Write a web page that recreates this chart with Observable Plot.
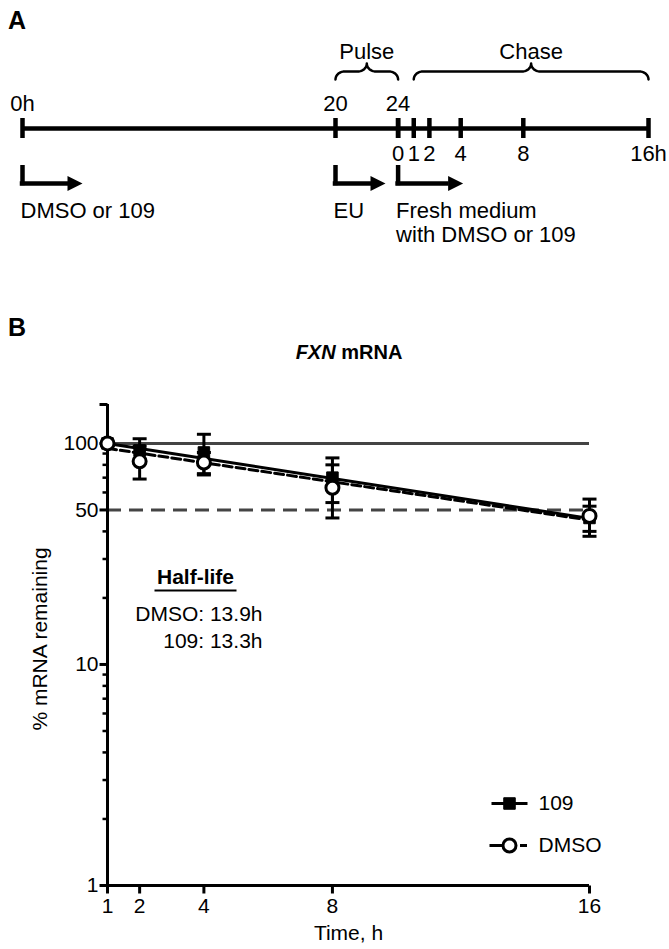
<!DOCTYPE html>
<html>
<head>
<meta charset="utf-8">
<script src="https://cdn.jsdelivr.net/npm/d3@7"></script>
<script src="https://cdn.jsdelivr.net/npm/@observablehq/plot@0.6"></script>
<style>
  body { margin: 0; background: #fff; }
  #wrap { position: relative; width: 669px; height: 949px; overflow: hidden; background: #fff;
          font-family: "Liberation Sans", Arial, sans-serif; color: #000; }
  .panel { position: absolute; left: 0; }
  .plab { position: absolute; font-weight: bold; font-size: 25px; line-height: 1; }
  #title { position: absolute; left: 200px; width: 298px; text-align: center; font-weight: bold; font-size: 20px; line-height: 24px; }
</style>
</head>
<body>
<div id="wrap">
  <div id="panelA" class="panel" style="top:0"></div>
  <div id="panelB" class="panel" style="top:300px"></div>
  <div class="plab" style="left:8px;top:8px">A</div>
  <div class="plab" style="left:8px;top:315px">B</div>
  <div id="title" style="top:340px"><i>FXN</i> mRNA</div>
</div>
<script>
// ---------------- DATA ----------------
// Panel A: experimental timeline (hours)
const treatHours = [0, 20, 24];
const treatLabels = ["0h", "20", "24"];
const chaseOffset = 24;
const chaseHours = [0, 1, 2, 4, 8, 16];
const chaseLabels = ["0", "1", "2", "4", "8", "16h"];
const phaseNames = ["Pulse", "Chase"];
const phaseStart = [20, 25];
const phaseEnd = [24, 40];
const stepLabels = ["DMSO or 109", "EU", "Fresh medium\nwith DMSO or 109"];
const stepStart = [0, 20, 24];

// Panel B: FXN mRNA decay
const times = [1, 2, 4, 8, 16];
const mean109 = [100, 93, 91, 70, 46];
const sd109 = [0, 12, 19, 16, 6];
const meanDMSO = [100, 83, 82, 63, 47];
const sdDMSO = [0, 14, 9, 17, 9];
const fitTimes = [1, 16];
const fit109 = [100, 45.8];
const fitDMSO = [95, 45];
const refLevels = [100, 50];
const yTickLabels = [1, 10, 50, 100];
const yAxisTop = 150;
const yMinorTicks = [2, 3, 4, 5, 6, 7, 8, 9, 20, 30, 40, 60, 70, 80, 90];
const xTicks = [1, 2, 4, 8, 16];
const seriesNames = ["109", "DMSO"];
const halfLifeNames = ["DMSO", "109"];
const halfLifeValues = [13.9, 13.3];

const FONT = "'Liberation Sans', Arial, Helvetica, sans-serif";

// ---------------- PANEL A ----------------
(function () {
  const W = 669, H = 260, ml = 22, mr = 21;
  const total = chaseOffset + chaseHours[chaseHours.length - 1];
  const pph = (W - ml - mr) / total;
  const px = p => p / pph; // pixel offset -> hours

  // vertical layout (px)
  const R = {phase: 51, bBottom: 79, bMid: 71, bTip: 63, top: 103, line: 128, tick: 10,
             sub: 153, stemTop: 165, arrow: 183, text: 200};

  // braces
  const braces = [];
  phaseNames.forEach((k, j) => {
    const a = phaseStart[j], b = phaseEnd[j], m = (a + b) / 2, r = px(9);
    const ry1 = R.bBottom - R.bMid, ry2 = R.bMid - R.bTip, n = 10;
    for (let i = 0; i <= n; i++) { const t = Math.PI + (Math.PI / 2) * i / n;
      braces.push({k, x: a + r + r * Math.cos(t), y: R.bBottom + ry1 * Math.sin(t)}); }
    for (let i = 0; i <= n; i++) { const t = Math.PI / 2 - (Math.PI / 2) * i / n;
      braces.push({k, x: m - r + r * Math.cos(t), y: R.bTip + ry2 * Math.sin(t)}); }
    for (let i = 0; i <= n; i++) { const t = Math.PI - (Math.PI / 2) * i / n;
      braces.push({k, x: m + r + r * Math.cos(t), y: R.bTip + ry2 * Math.sin(t)}); }
    for (let i = 0; i <= n; i++) { const t = 1.5 * Math.PI + (Math.PI / 2) * i / n;
      braces.push({k, x: b - r + r * Math.cos(t), y: R.bBottom + ry1 * Math.sin(t)}); }
  });

  // arrows
  const arrowLen = [60, 50, 65], head = 15, halfW = 7.5, sw = 4.5;
  const heads = [];
  stepStart.forEach((s, i) => {
    const tip = s + px(arrowLen[i]), base = tip - px(head);
    heads.push({k: i, x: base, y: R.arrow - halfW}, {k: i, x: tip, y: R.arrow}, {k: i, x: base, y: R.arrow + halfW});
  });

  const chaseAbs = chaseHours.map(h => h + chaseOffset);
  const allTicks = [...treatHours, ...chaseAbs];
  const fs = 22;

  const plot = Plot.plot({
    width: W, height: H, marginLeft: ml, marginRight: mr, marginTop: 0, marginBottom: 0,
    x: {domain: [0, total], axis: null},
    y: {type: "identity", axis: null},
    style: {fontFamily: FONT, background: "transparent", color: "#000"},
    marks: [
      Plot.ruleY([R.line], {x1: 0, x2: total, strokeWidth: sw}),
      Plot.ruleX(allTicks, {x: d => d, y1: R.line - R.tick, y2: R.line + R.tick, strokeWidth: sw}),
      Plot.text(treatHours, {x: d => d, y: R.top, text: (d, i) => treatLabels[i], fontSize: fs}),
      Plot.text(chaseAbs, {x: d => d, y: R.sub, text: (d, i) => chaseLabels[i], fontSize: fs}),
      Plot.text(phaseNames, {x: (d, i) => (phaseStart[i] + phaseEnd[i]) / 2, y: R.phase, text: d => d, fontSize: fs}),
      Plot.line(braces, {x: "x", y: "y", z: "k", strokeWidth: 2.5, strokeLinejoin: "round"}),
      Plot.ruleX(stepStart, {x: d => d, y1: R.stemTop, y2: R.arrow + sw / 2, strokeWidth: sw}),
      Plot.ruleY(stepStart, {y: R.arrow, x1: d => d - px(sw / 2), x2: (d, i) => d + px(arrowLen[i] - head + 1), strokeWidth: sw}),
      Plot.line(heads, {x: "x", y: "y", z: "k", fill: "#000", stroke: "none"}),
      Plot.text(stepLabels, {x: (d, i) => stepStart[i], y: R.text, text: d => d, textAnchor: "start",
        lineAnchor: "top", lineHeight: 1.1, dx: -2, fontSize: fs})
    ]
  });
  document.getElementById("panelA").appendChild(plot);
})();

// ---------------- PANEL B ----------------
(function () {
  const W = 669, H = 649;
  const rOf = size => Math.sqrt(size / Math.PI);
  const tickLeft = {draw(c, s) { const r = rOf(s); c.moveTo(-r, 0); c.lineTo(0, 0); }};
  const tickDown = {draw(c, s) { const r = rOf(s); c.moveTo(0, 0); c.lineTo(0, r); }};
  const hbar = {draw(c, s) { const r = rOf(s); c.moveTo(-r, 0); c.lineTo(r, 0); }};

  const rows = times.map((t, i) => ({t, m1: mean109[i], s1: sd109[i], m2: meanDMSO[i], s2: sdDMSO[i]}));
  const err1 = rows.filter(d => d.s1 > 0), err2 = rows.filter(d => d.s2 > 0);

  const sw = 3, fs = 21;
  const legend = [];
  const legendDy = [-82, -40];
  // 109: solid line with filled square
  legend.push(
    Plot.dot([0], {frameAnchor: "bottom-left", dx: 402, dy: legendDy[0], symbol: hbar, r: 18, stroke: "#000", fill: "none", strokeWidth: sw}),
    Plot.dot([0], {frameAnchor: "bottom-left", dx: 402, dy: legendDy[0], symbol: "square", r: 6.5, fill: "#000", stroke: "#000", strokeWidth: 1}),
    Plot.text([seriesNames[0]], {frameAnchor: "bottom-left", dx: 431, dy: legendDy[0], text: d => d, textAnchor: "start", lineAnchor: "middle", fontSize: fs})
  );
  // DMSO: dashed line with open circle
  legend.push(
    Plot.dot([0], {frameAnchor: "bottom-left", dx: 389, dy: legendDy[1], symbol: hbar, r: 7, stroke: "#000", fill: "none", strokeWidth: sw}),
    Plot.dot([0], {frameAnchor: "bottom-left", dx: 416, dy: legendDy[1], symbol: hbar, r: 3.5, stroke: "#000", fill: "none", strokeWidth: sw}),
    Plot.dot([0], {frameAnchor: "bottom-left", dx: 402, dy: legendDy[1], symbol: "circle", r: 6.5, fill: "#fff", stroke: "#000", strokeWidth: sw}),
    Plot.text([seriesNames[1]], {frameAnchor: "bottom-left", dx: 431, dy: legendDy[1], text: d => d, textAnchor: "start", lineAnchor: "middle", fontSize: fs})
  );

  const plot = Plot.plot({
    width: W, height: H, marginTop: 104, marginBottom: 64, marginLeft: 107, marginRight: 80,
    x: {domain: [1, 16], axis: null},
    y: {type: "log", domain: [1, yAxisTop], axis: null},
    style: {fontFamily: FONT, background: "transparent", color: "#000", fontSize: "21px"},
    marks: [
      // reference levels
      Plot.ruleY([refLevels[0]], {x1: 1, x2: 16, stroke: "#444", strokeWidth: sw}),
      Plot.ruleY([refLevels[1]], {x1: 1, x2: 16, stroke: "#444", strokeWidth: sw, strokeDasharray: "14,8"}),
      // axes
      Plot.ruleX([1], {y1: 1, y2: yAxisTop, strokeWidth: sw}),
      Plot.ruleY([1], {x1: 1, x2: 16, strokeWidth: sw}),
      Plot.dot([...yTickLabels, yAxisTop], {x: 1, y: d => d, symbol: tickLeft, r: 8, stroke: "#000", fill: "none", strokeWidth: sw}),
      Plot.dot(yMinorTicks, {x: 1, y: d => d, symbol: tickLeft, r: 5, stroke: "#000", fill: "none", strokeWidth: 2.5}),
      Plot.text(yTickLabels, {x: 1, y: d => d, text: d => String(d), textAnchor: "end", dx: -9, fontSize: fs}),
      Plot.dot(xTicks, {x: d => d, y: 1, symbol: tickDown, r: 8, stroke: "#000", fill: "none", strokeWidth: sw}),
      Plot.text(xTicks, {x: d => d, y: 1, text: d => String(d), dy: 21, fontSize: fs}),
      Plot.text(["Time, h"], {frameAnchor: "bottom", dy: 48, textAnchor: "middle", lineAnchor: "middle", text: d => d, fontSize: fs}),
      Plot.text(["% mRNA remaining"], {frameAnchor: "left", dx: -67, dy: -6, rotate: -90, textAnchor: "middle", lineAnchor: "middle", text: d => d, fontSize: fs}),
      // fits
      Plot.line(fitTimes, {x: d => d, y: (d, i) => fit109[i], stroke: "#000", strokeWidth: sw}),
      Plot.line(fitTimes, {x: d => d, y: (d, i) => fitDMSO[i], stroke: "#000", strokeWidth: sw, strokeDasharray: "9,4"}),
      // error bars
      Plot.ruleX(err1, {x: "t", y1: d => d.m1 - d.s1, y2: d => d.m1 + d.s1, strokeWidth: sw}),
      Plot.dot(err1, {x: "t", y: d => d.m1 + d.s1, symbol: hbar, r: 7, stroke: "#000", fill: "none", strokeWidth: sw}),
      Plot.dot(err1, {x: "t", y: d => d.m1 - d.s1, symbol: hbar, r: 7, stroke: "#000", fill: "none", strokeWidth: sw}),
      Plot.ruleX(err2, {x: "t", y1: d => d.m2 - d.s2, y2: d => d.m2 + d.s2, strokeWidth: sw}),
      Plot.dot(err2, {x: "t", y: d => d.m2 + d.s2, symbol: hbar, r: 7, stroke: "#000", fill: "none", strokeWidth: sw}),
      Plot.dot(err2, {x: "t", y: d => d.m2 - d.s2, symbol: hbar, r: 7, stroke: "#000", fill: "none", strokeWidth: sw}),
      // points
      Plot.dot(rows, {x: "t", y: "m1", symbol: "square", r: 6.5, fill: "#000", stroke: "#000", strokeWidth: 1}),
      Plot.dot(rows, {x: "t", y: "m2", symbol: "circle", r: 6.5, fill: "#fff", stroke: "#000", strokeWidth: sw}),
      // half-life annotation
      Plot.text(["Half-life"], {frameAnchor: "top-left", dx: 88, dy: 173, text: d => d, fontWeight: "bold", textAnchor: "middle", lineAnchor: "middle", fontSize: fs}),
      Plot.dot([0], {frameAnchor: "top-left", dx: 88, dy: 186, symbol: hbar, r: 41, stroke: "#000", fill: "none", strokeWidth: 2}),
      Plot.text([halfLifeNames.map((n, i) => `${n}: ${halfLifeValues[i]}h`).join("\n")],
        {frameAnchor: "top-left", dx: 155, dy: 197, text: d => d, textAnchor: "end", lineAnchor: "top", lineHeight: 1.3, fontSize: fs}),
      ...legend
    ]
  });
  document.getElementById("panelB").appendChild(plot);
})();
</script>
</body>
</html>
